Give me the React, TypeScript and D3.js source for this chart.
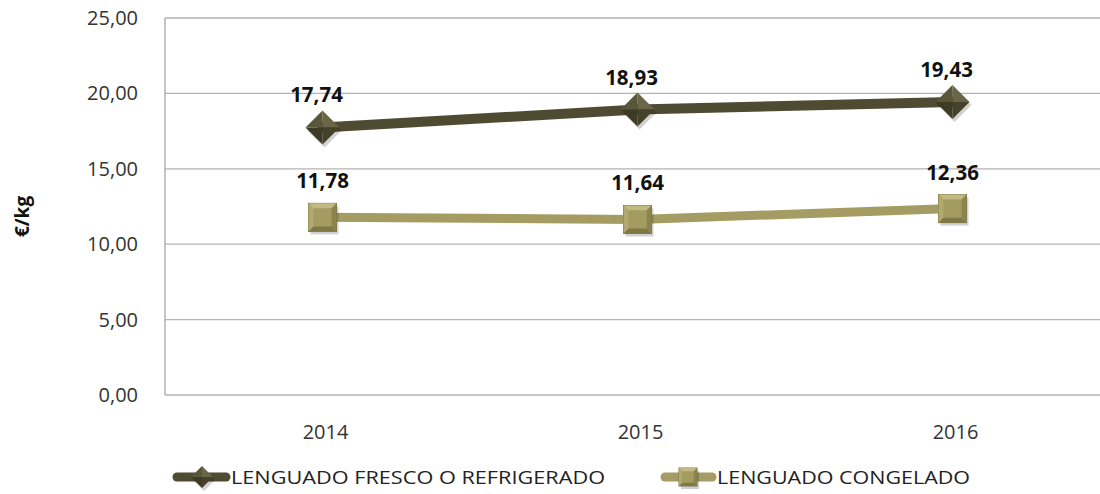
import React from "react";
import * as d3 from "d3";

const categories = ["2014", "2015", "2016"];
const frescoValues = [17.74, 18.93, 19.43];
const congeladoValues = [11.78, 11.64, 12.36];
const yTicks = [0, 5, 10, 15, 20, 25];
const seriesNames = ["LENGUADO FRESCO O REFRIGERADO", "LENGUADO CONGELADO"];

const W = 1100;
const H = 494;
const left = 165;
const bandW = 315;
const top = 18;
const bottom = 395;

const FONT = "'Open Sans', 'Liberation Sans', sans-serif";
const fmt = (v: number) => v.toFixed(2).replace(".", ",");

const DARK = "#4f4b32";
const LIGHT = "#a49c62";

function Diamond({ x, y, r }: { x: number; y: number; r: number }) {
  return (
    <g>
      <polygon points={`${x + 2},${y - r + 3} ${x + r + 2},${y + 3} ${x + 2},${y + r + 3} ${x - r + 2},${y + 3}`} fill="#000" opacity={0.18} />
      <polygon points={`${x},${y - r} ${x + r},${y} ${x},${y}`} fill="#6a6546" />
      <polygon points={`${x + r},${y} ${x},${y + r} ${x},${y}`} fill="#45412a" />
      <polygon points={`${x},${y + r} ${x - r},${y} ${x},${y}`} fill="#3d3a25" />
      <polygon points={`${x - r},${y} ${x},${y - r} ${x},${y}`} fill="#5a5639" />
    </g>
  );
}

function Square({ x, y, r }: { x: number; y: number; r: number }) {
  const b = r * 0.35;
  return (
    <g>
      <rect x={x - r + 2} y={y - r + 3} width={2 * r} height={2 * r} fill="#000" opacity={0.18} />
      <rect x={x - r} y={y - r} width={2 * r} height={2 * r} fill="#a39b60" stroke="#7d7646" strokeWidth={1} />
      <polygon points={`${x - r},${y - r} ${x + r},${y - r} ${x + r - b},${y - r + b} ${x - r + b},${y - r + b}`} fill="#c2ba82" />
      <polygon points={`${x + r},${y - r} ${x + r},${y + r} ${x + r - b},${y + r - b} ${x + r - b},${y - r + b}`} fill="#8c844f" />
      <polygon points={`${x - r},${y + r} ${x + r},${y + r} ${x + r - b},${y + r - b} ${x - r + b},${y + r - b}`} fill="#7f7846" />
      <polygon points={`${x - r},${y - r} ${x - r},${y + r} ${x - r + b},${y + r - b} ${x - r + b},${y - r + b}`} fill="#b1a970" />
    </g>
  );
}

export default function App() {
  const x = d3.scaleBand<string>().domain(categories).range([left, left + bandW * categories.length]);
  const y = d3.scaleLinear().domain([0, 25]).range([bottom, top]);
  const cx = (c: string) => (x(c) as number) + x.bandwidth() / 2;

  const line = d3
    .line<number>()
    .x((_, i) => cx(categories[i]))
    .y((d) => y(d));

  return (
    <svg width={W} height={H} style={{ position: "absolute", left: 0, top: 0, background: "#fff" }}>
      {yTicks.map((t) => (
        <g key={t}>
          <line x1={left} x2={W} y1={y(t)} y2={y(t)} stroke="#b3b3b3" strokeWidth={1.3} />
          <text x={138} y={y(t) + 7} textAnchor="end" fontFamily={FONT} fontSize={20} fill="#333">
            {fmt(t)}
          </text>
        </g>
      ))}
      <line x1={left} x2={left} y1={top} y2={bottom} stroke="#a6a6a6" strokeWidth={1.3} />
      {categories.map((c) => (
        <text key={c} x={cx(c) + 3} y={439} textAnchor="middle" fontFamily={FONT} fontSize={20} fill="#333">
          {c}
        </text>
      ))}
      <text
        transform={`translate(29,${(top + bottom) / 2 + 10}) rotate(-90)`}
        textAnchor="middle"
        fontFamily={FONT}
        fontWeight="bold"
        fontSize={19}
        fill="#111"
      >
        €/kg
      </text>

      <path d={line(frescoValues) || ""} fill="none" stroke={DARK} strokeWidth={10} strokeLinecap="round" strokeLinejoin="round" />
      <path d={line(congeladoValues) || ""} fill="none" stroke={LIGHT} strokeWidth={9} strokeLinecap="round" strokeLinejoin="round" />

      {frescoValues.map((v, i) => (
        <g key={"f" + i}>
          <Diamond x={cx(categories[i])} y={y(v)} r={17} />
          <text x={cx(categories[i]) - 6} y={y(v) - 25} textAnchor="middle" fontFamily={FONT} fontWeight="bold" fontSize={20.5} fill="#111">
            {fmt(v)}
          </text>
        </g>
      ))}
      {congeladoValues.map((v, i) => (
        <g key={"c" + i}>
          <Square x={cx(categories[i])} y={y(v)} r={14} />
          <text x={cx(categories[i])} y={y(v) - 29} textAnchor="middle" fontFamily={FONT} fontWeight="bold" fontSize={20.5} fill="#111">
            {fmt(v)}
          </text>
        </g>
      ))}

      {/* Legend */}
      <g>
        <line x1={177} x2={226} y1={477} y2={477} stroke={DARK} strokeWidth={9} strokeLinecap="round" />
        <Diamond x={202} y={477} r={11} />
        <text x={231} y={484} fontFamily={FONT} fontSize={19} fill="#222" textLength={374} lengthAdjust="spacingAndGlyphs">
          {seriesNames[0]}
        </text>
        <line x1={665} x2={712} y1={477} y2={477} stroke={LIGHT} strokeWidth={9} strokeLinecap="round" />
        <Square x={688} y={477} r={9} />
        <text x={717} y={484} fontFamily={FONT} fontSize={19} fill="#222" textLength={253} lengthAdjust="spacingAndGlyphs">
          {seriesNames[1]}
        </text>
      </g>
    </svg>
  );
}
